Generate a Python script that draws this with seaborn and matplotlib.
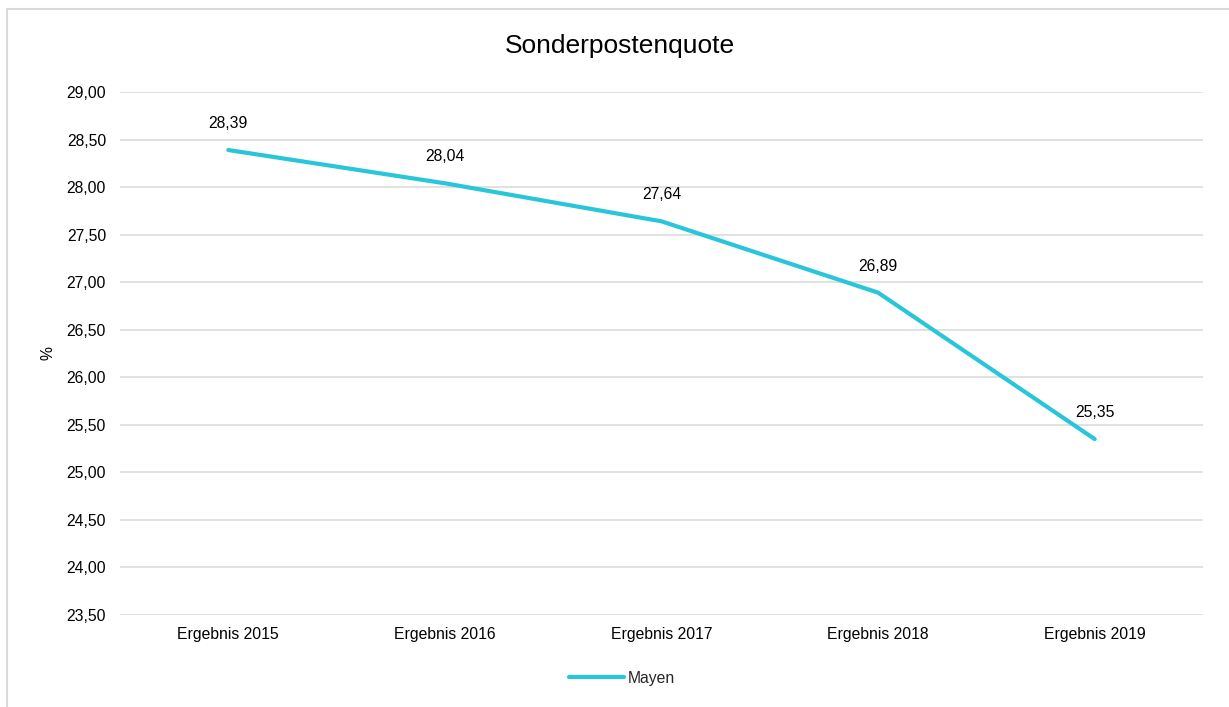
import matplotlib
matplotlib.use("Agg")
import matplotlib.pyplot as plt
import seaborn as sns
import pandas as pd
from matplotlib.patches import Rectangle
from matplotlib.lines import Line2D

categories = ["Ergebnis 2015", "Ergebnis 2016", "Ergebnis 2017", "Ergebnis 2018", "Ergebnis 2019"]
values = [28.39, 28.04, 27.64, 26.89, 25.35]
series_name = "Mayen"
yticks = [23.5, 24.0, 24.5, 25.0, 25.5, 26.0, 26.5, 27.0, 27.5, 28.0, 28.5, 29.0]

sns.set_theme(style="white")
plt.rcParams['font.family'] = ['Liberation Sans', 'DejaVu Sans']

df = pd.DataFrame({"Kategorie": categories, "Wert": values, "Serie": series_name})

fig = plt.figure(figsize=(12.29, 7.07), dpi=100)
ax = fig.add_axes([120/1229, 1-615/707, (1203-120)/1229, (615-92)/707])

color = "#29C6DA"
sns.lineplot(data=df, x="Kategorie", y="Wert", hue="Serie", palette=[color],
             linewidth=3.0, ax=ax, sort=False, legend=False)
for l in ax.lines:
    l.set_solid_capstyle("round")

ax.set_xlim(-0.5, len(categories) - 0.5)
ax.set_ylim(23.5, 29.0)
ax.set_yticks(yticks)
ax.set_yticklabels([f"{t:.2f}".replace(".", ",") for t in yticks])
ax.yaxis.grid(True, color="#d9d9d9", linewidth=1.1)
ax.xaxis.grid(False)
for s in ax.spines.values():
    s.set_visible(False)
ax.tick_params(axis="both", length=0, labelsize=11.3, colors="#000000")
ax.tick_params(axis="y", pad=10)
ax.tick_params(axis="x", pad=9)
ax.set_xlabel("")
ax.set_ylabel("%", fontsize=11.3, color="#000000", labelpad=8)

for i, v in enumerate(values):
    ax.annotate(f"{v:.2f}".replace(".", ","), (i, v), xytext=(0, 19),
                textcoords="offset points", ha="center", va="center",
                fontsize=11.3, color="#000000")

fig.text(620/1229, 1-46/707, "Sonderpostenquote", ha="center", va="center",
         fontsize=19, color="#000000")

h = Line2D([0], [0], color=color, linewidth=3.0, solid_capstyle="round")
fig.legend([h], [series_name], loc="center", bbox_to_anchor=(622/1229, 1-678/707),
           frameon=False, fontsize=11.3, handlelength=3.5, handletextpad=0.2)

top = 1 - 9/707
fig.patches.append(Rectangle((7/1229, -0.2), 1.2, top + 0.2, transform=fig.transFigure,
                             fill=False, edgecolor="#d9d9d9", linewidth=1.5, zorder=-1))

fig.savefig("out.png", dpi=100)
